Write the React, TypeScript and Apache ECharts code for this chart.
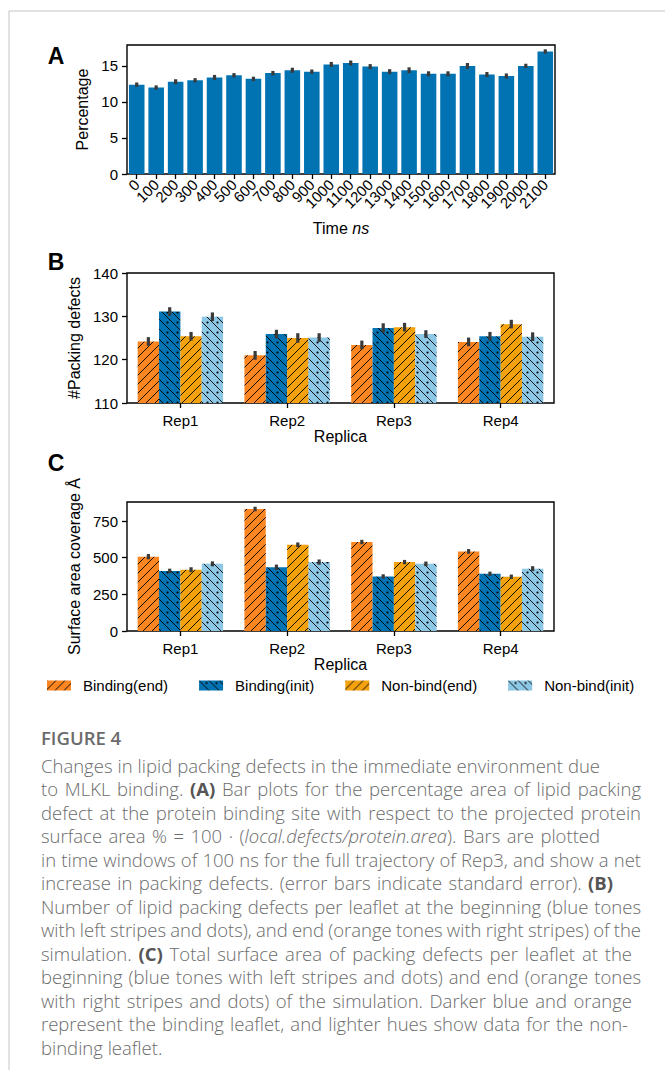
import React, { useEffect, useRef } from "react";
import * as echarts from "echarts";

// ---------- DATA ----------
const timeLabels = ["0", "100", "200", "300", "400", "500", "600", "700", "800", "900", "1000", "1100", "1200", "1300", "1400", "1500", "1600", "1700", "1800", "1900", "2000", "2100"];
const percentValues = [12.4, 12.0, 12.8, 13.0, 13.4, 13.7, 13.2, 14.0, 14.4, 14.2, 15.2, 15.4, 14.9, 14.2, 14.4, 13.9, 13.9, 15.0, 13.8, 13.6, 15.0, 17.0];
const percentErrors = [0.3, 0.3, 0.35, 0.3, 0.35, 0.3, 0.3, 0.3, 0.35, 0.3, 0.35, 0.35, 0.35, 0.35, 0.4, 0.35, 0.35, 0.4, 0.35, 0.35, 0.3, 0.3];

const replicas = ["Rep1", "Rep2", "Rep3", "Rep4"];
const seriesNames = ["Binding(end)", "Binding(init)", "Non-bind(end)", "Non-bind(init)"];

const defectsBindingEnd = [124.2, 121.0, 123.4, 124.1];
const defectsBindingInit = [131.1, 125.9, 127.3, 125.4];
const defectsNonbindEnd = [125.4, 125.0, 127.5, 128.2];
const defectsNonbindInit = [129.9, 125.1, 125.9, 125.3];
const defectsErrBindingEnd = [1.0, 1.0, 1.0, 1.0];
const defectsErrBindingInit = [1.0, 1.0, 1.1, 1.0];
const defectsErrNonbindEnd = [1.0, 1.1, 1.0, 1.0];
const defectsErrNonbindInit = [1.0, 1.0, 0.9, 1.0];

const areaBindingEnd = [507, 832, 607, 543];
const areaBindingInit = [409, 435, 372, 390];
const areaNonbindEnd = [418, 588, 470, 370];
const areaNonbindInit = [458, 470, 458, 425];
const areaErrBindingEnd = [18, 15, 15, 16];
const areaErrBindingInit = [16, 18, 15, 15];
const areaErrNonbindEnd = [17, 16, 15, 15];
const areaErrNonbindInit = [17, 18, 16, 17];

const percentTicks = [0, 5, 10, 15];
const defectsTicks = [110, 120, 130, 140];
const areaTicks = [0, 250, 500, 750];

const captionTitle = "FIGURE 4";
const captionLines = [
  "Changes in lipid packing defects in the immediate environment due",
  "to MLKL binding. {b|(A)} Bar plots for the percentage area of lipid packing",
  "defect at the protein binding site with respect to the projected protein",
  "surface area % = 100 · ({i|local.defects/protein.area}). Bars are plotted",
  "in time windows of 100 ns for the full trajectory of Rep3, and show a net",
  "increase in packing defects. (error bars indicate standard error). {b|(B)}",
  "Number of lipid packing defects per leaflet at the beginning (blue tones",
  "with left stripes and dots), and end (orange tones with right stripes) of the",
  "simulation. {b|(C)} Total surface area of packing defects per leaflet at the",
  "beginning (blue tones with left stripes and dots) and end (orange tones",
  "with right stripes and dots) of the simulation. Darker blue and orange",
  "represent the binding leaflet, and lighter hues show data for the non-",
  "binding leaflet.",
];
// right edge each caption line reaches (layout), 0 = natural width
const captionLineEnds = [600, 641, 641, 600, 641, 613, 641, 641, 632, 641, 632, 628, 0];

// ---------- STYLE ----------
const FONT = "'Liberation Sans', Arial, sans-serif";
const CAP_FAMILY = "Open Sans";
const CAP_SIZE = 18.5;
const CAP_WEIGHT = 300;
const CAP_COLOR = "#6b6b6b";
const C_BLUE = "#0173b2";
const C_ORANGE = "#fb8521";
const C_ORANGE2 = "#f3a10c";
const C_LIGHT = "#8dc7e6";
const ERR = "#3a3a3a";

function hatch(bg: string, kind: "fwd" | "back", P: number) {
  let body = "";
  if (kind === "fwd") {
    body = `<path d="M0 ${P} L${P} 0 M-1 1 L1 -1 M${P - 1} ${P + 1} L${P + 1} ${P - 1}" stroke="#000" stroke-width="0.9" fill="none"/>`;
  } else {
    body = `<path d="M0 0 L${P} ${P} M${P - 1} -1 L${P + 1} 1 M-1 ${P - 1} L1 ${P + 1}" stroke="#000" stroke-width="0.9" fill="none"/>` +
      `<circle cx="${P * 0.75}" cy="${P * 0.25}" r="1.1" fill="#000"/>`;
  }
  const svg = `<svg xmlns="http://www.w3.org/2000/svg" width="${P}" height="${P}"><rect width="${P}" height="${P}" fill="${bg}"/>${body}</svg>`;
  return {
    image: "data:image/svg+xml;charset=utf-8," + encodeURIComponent(svg),
    repeat: "repeat",
    imageWidth: P,
    imageHeight: P,
  } as any;
}

let measureCtx: CanvasRenderingContext2D | null = null;
function measure(text: string, style: string) {
  if (!measureCtx) measureCtx = document.createElement("canvas").getContext("2d");
  const ctx = measureCtx!;
  let font = `${CAP_WEIGHT} ${CAP_SIZE}px "${CAP_FAMILY}"`;
  if (style === "b") font = `bold ${CAP_SIZE}px "${CAP_FAMILY}"`;
  if (style === "i") font = `italic ${CAP_WEIGHT} ${CAP_SIZE}px "${CAP_FAMILY}"`;
  ctx.font = font;
  return ctx.measureText(text).width;
}
function wordWidth(word: string) {
  const re = /\{(\w)\|([^}]*)\}|([^{]+)/g;
  let m: RegExpExecArray | null;
  let w = 0;
  while ((m = re.exec(word))) {
    if (m[3] !== undefined) w += measure(m[3], "n");
    else w += measure(m[2], m[1]);
  }
  return w;
}

export default function App() {
  const ref = useRef<HTMLDivElement>(null);
  useEffect(() => {
    document.body.style.margin = "0";
    const chart = echarts.init(ref.current!, null, { renderer: "svg" });

    const patterns = [
      hatch(C_ORANGE, "fwd", 9),
      hatch(C_BLUE, "back", 10),
      hatch(C_ORANGE2, "fwd", 9),
      hatch(C_LIGHT, "back", 10),
    ];
    const defectsVals = [defectsBindingEnd, defectsBindingInit, defectsNonbindEnd, defectsNonbindInit];
    const defectsErrs = [defectsErrBindingEnd, defectsErrBindingInit, defectsErrNonbindEnd, defectsErrNonbindInit];
    const areaVals = [areaBindingEnd, areaBindingInit, areaNonbindEnd, areaNonbindInit];
    const areaErrs = [areaErrBindingEnd, areaErrBindingInit, areaErrNonbindEnd, areaErrNonbindInit];

    const errRender = (params: any, api: any) => {
      const ci = api.value(0);
      const lo = api.value(1);
      const hi = api.value(2);
      const k = api.value(3);
      const band = api.size([1, 0])[0];
      const off = k < 0 ? 0 : (k - 1.5) * band * 0.2;
      const p1 = api.coord([ci, hi]);
      const p2 = api.coord([ci, lo]);
      return {
        type: "rect",
        shape: { x: p1[0] + off - 1.6, y: p1[1], width: 3.2, height: p2[1] - p1[1] },
        style: { fill: ERR },
      };
    };

    const axisTickCommon = { show: true, length: 5, lineStyle: { color: "#000", width: 1.3 } };
    const labelCommon = { fontFamily: FONT, fontSize: 15, color: "#000" };

    const xCat = (gi: number, data: string[], extra: any) => ({
      type: "category",
      gridIndex: gi,
      data,
      axisLine: { show: false },
      axisTick: { ...axisTickCommon, alignWithLabel: true },
      axisLabel: { ...labelCommon, ...extra.label },
      nameLocation: "middle",
      nameTextStyle: { fontFamily: FONT, fontSize: 16, color: "#000", rich: extra.rich },
      name: extra.name,
      nameGap: extra.nameGap,
    });
    const yVal = (gi: number, min: number, max: number, ticks: number[], name: string, nameGap: number) => ({
      type: "value",
      gridIndex: gi,
      min,
      max,
      splitLine: { show: false },
      axisLine: { show: false },
      axisTick: { ...axisTickCommon, customValues: ticks },
      axisLabel: { ...labelCommon, margin: 9, customValues: ticks },
      name,
      nameLocation: "middle",
      nameRotate: 90,
      nameGap,
      nameTextStyle: { fontFamily: FONT, fontSize: 16, color: "#000" },
    });

    const series: any[] = [];
    series.push({
      type: "bar",
      xAxisIndex: 0,
      yAxisIndex: 0,
      data: percentValues,
      barCategoryGap: "20%",
      itemStyle: { color: C_BLUE },
      silent: true,
    });
    series.push({
      type: "custom",
      xAxisIndex: 0,
      yAxisIndex: 0,
      renderItem: errRender,
      encode: { x: 0, y: [1, 2] },
      data: percentValues.map((v, i) => [i, v - percentErrors[i], v + percentErrors[i], -1]),
      z: 5,
      silent: true,
    });
    for (let k = 0; k < 4; k++) {
      series.push({
        type: "bar",
        name: seriesNames[k],
        xAxisIndex: 1,
        yAxisIndex: 1,
        data: defectsVals[k],
        barGap: "0%",
        barCategoryGap: "20%",
        itemStyle: { color: patterns[k] },
        silent: true,
      });
    }
    series.push({
      type: "custom",
      xAxisIndex: 1,
      yAxisIndex: 1,
      renderItem: errRender,
      encode: { x: 0, y: [1, 2] },
      data: defectsVals.flatMap((arr, k) => arr.map((v, i) => [i, v - defectsErrs[k][i], v + defectsErrs[k][i], k])),
      z: 5,
      silent: true,
    });
    for (let k = 0; k < 4; k++) {
      series.push({
        type: "bar",
        name: seriesNames[k],
        xAxisIndex: 2,
        yAxisIndex: 2,
        data: areaVals[k],
        barGap: "0%",
        barCategoryGap: "20%",
        itemStyle: { color: patterns[k] },
        silent: true,
      });
    }
    series.push({
      type: "custom",
      xAxisIndex: 2,
      yAxisIndex: 2,
      renderItem: errRender,
      encode: { x: 0, y: [1, 2] },
      data: areaVals.flatMap((arr, k) => arr.map((v, i) => [i, v - areaErrs[k][i], v + areaErrs[k][i], k])),
      z: 5,
      silent: true,
    });

    const graphics: any[] = [
      { type: "line", shape: { x1: 9, y1: 11, x2: 665, y2: 11 }, style: { stroke: "#d9d9d9", lineWidth: 1.5 } },
      { type: "line", shape: { x1: 9, y1: 11, x2: 9, y2: 1070 }, style: { stroke: "#d9d9d9", lineWidth: 1.5 } },
      { type: "text", x: 56, y: 56, style: { text: "A", font: `bold 23px ${FONT}`, fill: "#000", textAlign: "center", textVerticalAlign: "middle" } },
      { type: "text", x: 56, y: 262, style: { text: "B", font: `bold 23px ${FONT}`, fill: "#000", textAlign: "center", textVerticalAlign: "middle" } },
      { type: "text", x: 56, y: 463, style: { text: "C", font: `bold 23px ${FONT}`, fill: "#000", textAlign: "center", textVerticalAlign: "middle" } },
      { type: "text", x: 41, y: 737, style: { text: captionTitle, fontFamily: CAP_FAMILY, fontSize: 18.5, fontWeight: 600, fill: CAP_COLOR, textVerticalAlign: "middle" } },
    ];
    const rich = {
      b: { fontFamily: CAP_FAMILY, fontSize: CAP_SIZE, fontWeight: "bold", fill: "#555" },
      i: { fontFamily: CAP_FAMILY, fontSize: CAP_SIZE, fontWeight: CAP_WEIGHT, fontStyle: "italic", fill: CAP_COLOR },
    };
    const x0 = 41;
    const spaceW = measure(" ", "n");
    captionLines.forEach((ln, li) => {
      const words = ln.split(" ");
      const widths = words.map(wordWidth);
      const total = widths.reduce((a, b) => a + b, 0);
      const end = captionLineEnds[li];
      let gap = spaceW;
      if (end > 0 && words.length > 1) gap = (end - x0 - total) / (words.length - 1);
      let x = x0;
      const y = 765 + li * 23.5;
      words.forEach((w, wi) => {
        graphics.push({
          type: "text",
          x,
          y,
          style: {
            text: w,
            fontFamily: CAP_FAMILY,
            fontSize: CAP_SIZE,
            fontWeight: CAP_WEIGHT,
            fill: CAP_COLOR,
            textVerticalAlign: "middle",
            rich,
          },
        });
        x += widths[wi] + gap;
      });
    });

    chart.setOption({
      animation: false,
      backgroundColor: "#fff",
      grid: [
        { left: 127, top: 45, width: 428, height: 129, show: true, borderColor: "#000", borderWidth: 1.4, containLabel: false },
        { left: 127, top: 273, width: 427, height: 130, show: true, borderColor: "#000", borderWidth: 1.4, containLabel: false },
        { left: 127, top: 502, width: 427, height: 129, show: true, borderColor: "#000", borderWidth: 1.4, containLabel: false },
      ],
      xAxis: [
        xCat(0, timeLabels, { label: { rotate: 45, margin: 8, interval: 0 }, name: "Time {i|ns}", nameGap: 46, rich: { i: { fontStyle: "italic", fontFamily: FONT, fontSize: 16 } } }),
        xCat(1, replicas, { label: { margin: 10 }, name: "Replica", nameGap: 25 }),
        xCat(2, replicas, { label: { margin: 10 }, name: "Replica", nameGap: 25 }),
      ],
      yAxis: [
        yVal(0, 0, 17.9, percentTicks, "Percentage", 30),
        yVal(1, 110, 140, defectsTicks, "#Packing defects", 40),
        yVal(2, 0, 880, areaTicks, "Surface area coverage Å", 42),
      ],
      legend: {
        data: seriesNames,
        left: 47,
        top: 678,
        padding: 0,
        icon: "rect",
        itemWidth: 24,
        itemHeight: 10,
        itemGap: 31,
        textStyle: { fontFamily: FONT, fontSize: 15, color: "#000", padding: [0, 0, 0, 7] },
        selectedMode: false,
      },
      series,
      graphic: graphics,
    });
    return () => chart.dispose();
  }, []);
  return <div ref={ref} style={{ position: "absolute", left: 0, top: 0, width: 665, height: 1070 }} />;
}
